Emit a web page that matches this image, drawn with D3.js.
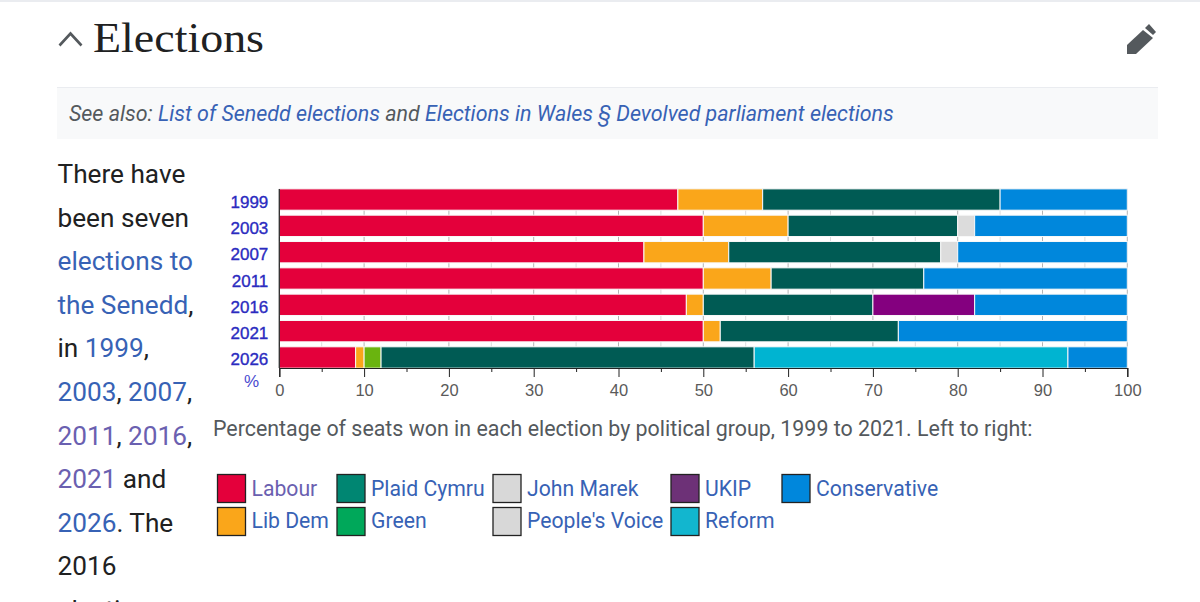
<!DOCTYPE html>
<html>
<head>
<meta charset="utf-8">
<title>Elections</title>
<script src="https://cdn.jsdelivr.net/npm/d3@7"></script>
<style>
html, body { margin: 0; padding: 0; background: #fff; overflow: hidden; }
text { font-family: Roboto, sans-serif; }
.chart text { font-family: "Liberation Sans", sans-serif; }
</style>
</head>
<body>
<div id="graph"></div>
<script>
// seats won, percent, one array per group. order left to right is the stack order
const years = ["1999", "2003", "2007", "2011", "2016", "2021", "2026"];
const labour = [47, 50, 43, 50, 48, 50, 9];
const libDem = [10, 10, 10, 8, 2, 2, 1];
const green = [0, 0, 0, 0, 0, 0, 2];
const plaid = [28, 20, 25, 18, 20, 21, 44];
const marek = [0, 2, 2, 0, 0, 0, 0];
const ukip = [0, 0, 0, 0, 12, 0, 0];
const reform = [0, 0, 0, 0, 0, 0, 37];
const conservative = [15, 18, 20, 24, 18, 27, 7];

const groupNames = ["Labour", "Lib Dem", "Green", "Plaid Cymru", "John Marek", "UKIP", "Reform", "Conservative"];
const groupValues = [labour, libDem, green, plaid, marek, ukip, reform, conservative];
const barColors = ["#e4003b", "#faa61a", "#6ab40f", "#005b54", "#dcdcdc", "#84007f", "#00b4d1", "#0087dc"];

const majorTicks = [0, 10, 20, 30, 40, 50, 60, 70, 80, 90, 100];
const minorTicks = [5, 15, 25, 35, 45, 55, 65, 75, 85, 95];

const legendNames = ["Labour", "Lib Dem", "Plaid Cymru", "Green", "John Marek", "People's Voice", "UKIP", "Reform", "Conservative"];
const legendColors = ["#e4003b", "#faa61a", "#008672", "#00a85a", "#d8d8d8", "#d8d8d8", "#6d3177", "#12b6cf", "#0087dc"];

const link = "#3762b5", visited = "#6a60b0", ink = "#202122";

const paragraph = [
    [["There have", ink]],
    [["been seven", ink]],
    [["elections to", link]],
    [["the Senedd", link], [",", ink]],
    [["in ", ink], ["1999", link], [",", ink]],
    [["2003", link], [", ", ink], ["2007", link], [",", ink]],
    [["2011", visited], [", ", ink], ["2016", visited], [",", ink]],
    [["2021", visited], [" and", ink]],
    [["2026", link], [". The", ink]],
    [["2016", ink]],
    [["election", ink]]
];

const svg = d3.select("#graph").append("svg")
    .attr("width", 1200)
    .attr("height", 602)
    .style("display", "block");

// page furniture
svg.append("rect").attr("x", 0).attr("y", 0).attr("width", 1200).attr("height", 2).attr("fill", "#eaecf0");
svg.append("text").attr("x", 93).attr("y", 52)
    .attr("textLength", 171).attr("lengthAdjust", "spacingAndGlyphs")
    .style("font-family", "'Liberation Serif', serif").style("font-size", "43px").attr("fill", ink)
    .text("Elections");
svg.append("path").attr("d", "M59.5,45.5 L70.5,33.5 L81.5,45.5").attr("fill", "none").attr("stroke", "#54595d").attr("stroke-width", 2.6);
// edit pencil
svg.append("path").attr("d", "M1127,54 L1127,45 L1143,30 L1153,38 L1136,54 Z").attr("fill", "#54595d");
svg.append("path").attr("d", "M1145,28 L1149,24 L1156,32 L1153,35 Z").attr("fill", "#54595d");

svg.append("rect").attr("x", 57).attr("y", 87).attr("width", 1101).attr("height", 52).attr("fill", "#f8f9fa");
svg.append("rect").attr("x", 57).attr("y", 87).attr("width", 1101).attr("height", 1).attr("fill", "#eaecf0");
const hat = svg.append("text").attr("x", 69).attr("y", 121)
    .style("font-size", "21.45px").style("font-style", "italic");
[["See also: ", "#54595d"], ["List of Senedd elections", link], [" and ", "#54595d"],
 ["Elections in Wales § Devolved parliament elections", link]].forEach(function(s) {
    hat.append("tspan").attr("fill", s[1]).text(s[0]);
});

paragraph.forEach(function(line, i) {
    const t = svg.append("text").attr("x", 57.5).attr("y", 183 + i * 43.6).style("font-size", "26.2px");
    line.forEach(function(s) {
        t.append("tspan").attr("fill", s[1]).text(s[0]);
    });
});

// chart
const x = d3.scaleLinear().domain([0, 100]).range([279.3, 1127.3]);
const y = d3.scaleBand().domain(years).range([186.5, 370.5]).paddingInner(0.19).paddingOuter(0.09);

const chart = svg.append("g").attr("class", "chart");

// gridlines show through the gaps between bars
chart.selectAll(".major").data(majorTicks).enter().append("line")
    .attr("x1", d => x(d)).attr("x2", d => x(d))
    .attr("y1", 189).attr("y2", 368)
    .attr("stroke", "#b4b4b4").attr("stroke-width", 1);
chart.selectAll(".minor").data(minorTicks).enter().append("line")
    .attr("x1", d => x(d)).attr("x2", d => x(d))
    .attr("y1", 189).attr("y2", 368)
    .attr("stroke", "#dddddd").attr("stroke-width", 1);

const rows = years.map(function(year, i) {
    const row = { year: year };
    groupNames.forEach(function(name, g) { row[name] = groupValues[g][i]; });
    return row;
});
const stacked = d3.stack().keys(groupNames)(rows);

chart.selectAll(".series").data(stacked).enter().append("g")
    .attr("fill", (d, i) => barColors[i])
    .selectAll("rect").data(d => d.filter(s => s[1] > s[0])).enter().append("rect")
    .attr("x", d => x(d[0]))
    .attr("y", d => y(d.data.year))
    .attr("width", d => x(d[1]) - x(d[0]))
    .attr("height", y.bandwidth())
    .attr("stroke", "#f8f8f8")
    .attr("stroke-width", 1);

const xAxis = d3.axisBottom(x).tickValues(majorTicks).tickSize(9).tickPadding(7);
const xAxisG = chart.append("g").attr("transform", "translate(0,368)").call(xAxis);
xAxisG.select(".domain").attr("stroke", "#222").attr("stroke-width", 1.2);
xAxisG.selectAll(".tick line").attr("stroke", "#222");
xAxisG.selectAll(".tick text").attr("fill", "#5a5a5a").style("font-size", "16.5px");

const minorAxis = d3.axisBottom(x).tickValues(minorTicks).tickSize(4).tickFormat("");
const minorG = chart.append("g").attr("transform", "translate(0,368)").call(minorAxis);
minorG.select(".domain").remove();
minorG.selectAll(".tick line").attr("stroke", "#222");

const yAxis = d3.axisLeft(y).tickSize(0).tickPadding(11);
const yAxisG = chart.append("g").attr("transform", "translate(279.3,0)").call(yAxis);
yAxisG.select(".domain").remove();
chart.append("line").attr("x1", x(0)).attr("x2", x(0)).attr("y1", 189).attr("y2", 368)
    .attr("stroke", "#222").attr("stroke-width", 1.2);
yAxisG.selectAll(".tick text").attr("fill", "#2b2bbf").style("font-size", "17px")
    .attr("dy", "0.47em")
    .attr("stroke", "#2b2bbf").attr("stroke-width", 0.35);

chart.append("text").attr("x", 251.5).attr("y", 387).attr("text-anchor", "middle")
    .attr("fill", "#4a4ad0").style("font-size", "17px").text("%");

// caption and legend
svg.append("text").attr("x", 213).attr("y", 436).attr("fill", "#54595d").style("font-size", "21.4px")
    .text("Percentage of seats won in each election by political group, 1999 to 2021. Left to right:");

const legendX = d3.scaleOrdinal()
    .domain(legendNames)
    .range([217, 217, 336.5, 336.5, 492.5, 492.5, 670.5, 670.5, 781.5]);
const legendY = d3.scaleOrdinal()
    .domain(legendNames)
    .range([474, 507, 474, 507, 474, 507, 474, 507, 474]);

const legend = svg.selectAll(".legend").data(legendNames).enter().append("g")
    .attr("transform", d => `translate(${legendX(d)},${legendY(d)})`);
legend.append("rect")
    .attr("x", 0.5).attr("y", 0.5).attr("width", 28).attr("height", 28)
    .attr("fill", (d, i) => legendColors[i])
    .attr("stroke", "#222").attr("stroke-width", 1.3);
legend.append("text")
    .attr("x", 34.5).attr("y", 22)
    .attr("dy", (d, i) => i % 2 === 1 ? -0.7 : 0)
    .attr("fill", d => d === "Labour" ? visited : link)
    .style("font-size", "21.2px")
    .text(d => d);
</script>
</body>
</html>
